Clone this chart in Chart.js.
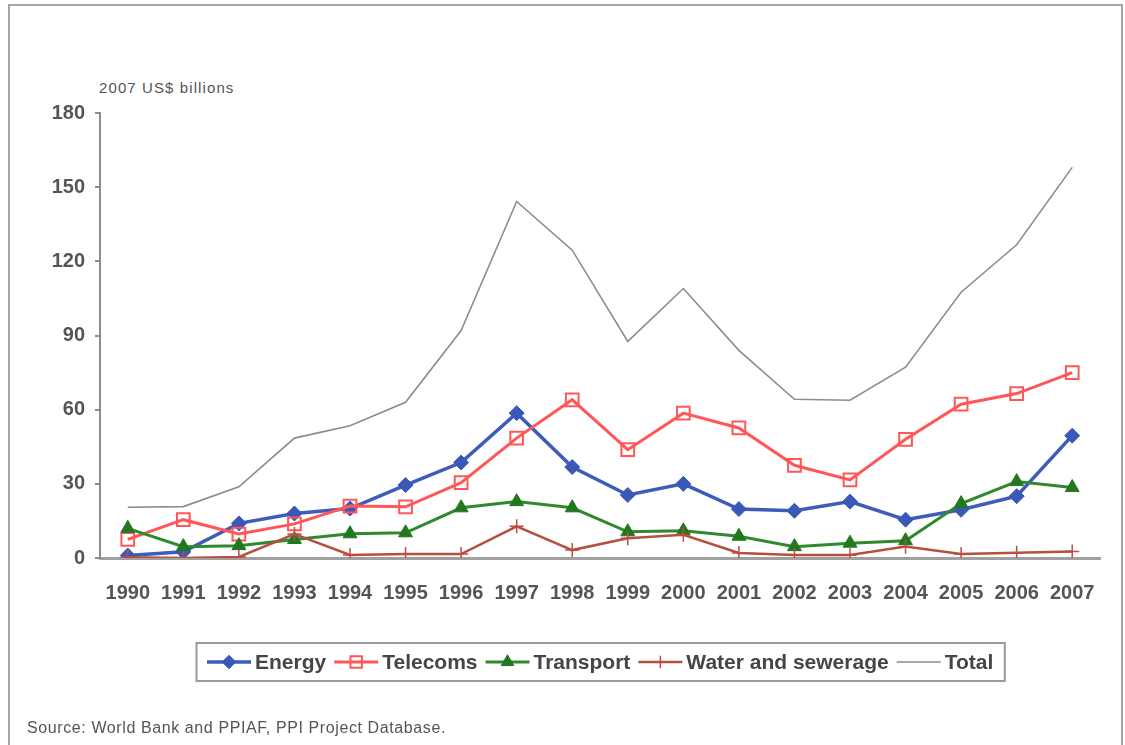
<!DOCTYPE html>
<html>
<head>
<meta charset="utf-8">
<title>Private investment in infrastructure by sector, 1990-2007</title>
<script src="https://cdn.jsdelivr.net/npm/chart.js@4.4.1/dist/chart.umd.min.js"></script>
<style>
  html, body { margin: 0; padding: 0; background: #ffffff; }
  #wrap { position: relative; width: 1125px; height: 745px; overflow: hidden; }
  #frame {
    position: absolute; left: 8px; top: 4px; width: 1115px; height: 760px;
    border: 2px solid #a3a7a3; box-sizing: border-box;
  }
  #unit {
    position: absolute; left: 99px; top: 79px;
    font: 15px "Liberation Sans", Arial, sans-serif; color: #555555; letter-spacing: 1.1px;
  }
  #source {
    position: absolute; left: 27px; top: 719px;
    font: 16px "Liberation Sans", Arial, sans-serif; color: #555555; letter-spacing: 0.6px;
  }
  canvas { position: absolute; left: 0; top: 0; }
</style>
</head>
<body>
<div id="wrap">
  <div id="frame"></div>
  <div id="unit">2007 US$ billions</div>
  <canvas id="chart" width="1125" height="745"></canvas>
  <div id="source">Source: World Bank and PPIAF, PPI Project Database.</div>
</div>
<script>
// Years on the category axis
const years = ['1990','1991','1992','1993','1994','1995','1996','1997','1998',
               '1999','2000','2001','2002','2003','2004','2005','2006','2007'];

// Investment commitments by sector, 2007 US$ billions
const energy    = [1, 2.5, 14, 18, 20, 29.5, 38.6, 58.6, 36.8, 25.5, 30, 19.8, 19.1, 22.8, 15.5, 19.5, 25, 49.5];
const telecoms  = [7.5, 15.5, 9.7, 13.8, 21, 20.7, 30.5, 48.5, 64, 43.8, 58.6, 52.6, 37.5, 31.6, 48, 62.2, 66.5, 75];
const transport = [12, 4.6, 5, 7.5, 9.8, 10.2, 20.3, 22.8, 20.3, 10.6, 11, 8.8, 4.6, 6, 7, 22, 30.9, 28.5];
const water     = [0.3, 0, 0.4, 9.7, 1.2, 1.6, 1.6, 12.8, 3.2, 8, 9.4, 2, 1.2, 1.2, 4.6, 1.6, 2.1, 2.6];
const total     = [20.5, 20.8, 28.8, 48.5, 53.5, 63, 92, 144.2, 124.5, 87.6, 109, 84, 64.2, 63.8, 77.2, 107.5, 126.7, 158];

// Value axis ticks
const yTicks = [0, 30, 60, 90, 120, 150, 180];

const FONT = '"Liberation Sans", Arial, sans-serif';
const TEXT = '#555555';

// Legend drawn inside the canvas: line sample with marker, then label, all framed by a box
const boxedLegend = {
  id: 'boxedLegend',
  afterDraw(chart) {
    const ctx = chart.ctx;
    const area = chart.chartArea;
    const items = chart.data.datasets.map((ds, i) => ({ ds, meta: chart.getDatasetMeta(i) }));
    const sampleW = 44, gap = 4, itemGap = 8, padX = 11;
    ctx.save();
    ctx.font = 'bold 21px ' + FONT;
    const widths = items.map(it => ctx.measureText(it.ds.label).width);
    let totalW = 2 * padX;
    widths.forEach((w, i) => { totalW += sampleW + gap + w + (i < widths.length - 1 ? itemGap : 0); });
    const cx = (area.left + area.right) / 2;
    const cy = 662;
    const left = Math.round(cx - totalW / 2);
    const boxH = 38;

    // frame
    ctx.lineWidth = 2;
    ctx.strokeStyle = '#9a9a9a';
    ctx.strokeRect(left + 0.5, cy - boxH / 2, totalW, boxH);

    let x = left + padX;
    items.forEach((it, i) => {
      const ds = it.ds;
      ctx.save();
      ctx.strokeStyle = ds.borderColor;
      ctx.lineWidth = ds.borderWidth;
      ctx.beginPath();
      ctx.moveTo(x, cy);
      ctx.lineTo(x + sampleW, cy);
      ctx.stroke();
      if (ds.pointStyle && ds.pointRadius > 0) {
        ctx.fillStyle = ds.pointBackgroundColor;
        ctx.strokeStyle = ds.pointBorderColor;
        ctx.lineWidth = ds.pointBorderWidth;
        Chart.helpers.drawPoint(ctx, {
          pointStyle: ds.pointStyle,
          radius: ds.pointRadius * 0.9,
          rotation: 0,
          borderWidth: ds.pointBorderWidth
        }, x + sampleW / 2, cy);
      }
      ctx.restore();
      x += sampleW + gap;
      ctx.fillStyle = '#454545';
      ctx.textBaseline = 'middle';
      ctx.textAlign = 'left';
      ctx.fillText(ds.label, x, cy + 1);
      x += widths[i] + itemGap;
    });
    ctx.restore();
  }
};

new Chart(document.getElementById('chart'), {
  type: 'line',
  data: {
    labels: years,
    datasets: [
      {
        label: 'Energy', data: energy, order: 5,
        borderColor: '#3d5cbc', borderWidth: 3.5,
        pointStyle: 'rectRot', pointRadius: 7.5,
        pointBackgroundColor: '#3a58b8', pointBorderColor: '#3a58b8', pointBorderWidth: 1
      },
      {
        label: 'Telecoms', data: telecoms, order: 4,
        borderColor: '#ff5757', borderWidth: 3,
        pointStyle: 'rect', pointRadius: 9,
        pointBackgroundColor: 'rgba(255,255,255,0)', pointBorderColor: '#ff5757', pointBorderWidth: 2
      },
      {
        label: 'Transport', data: transport, order: 3,
        borderColor: '#2f8a2f', borderWidth: 3,
        pointStyle: 'triangle', pointRadius: 8,
        pointBackgroundColor: '#22771f', pointBorderColor: '#22771f', pointBorderWidth: 1
      },
      {
        label: 'Water and sewerage', data: water, order: 2,
        borderColor: '#b5503f', borderWidth: 2.5,
        pointStyle: 'cross', pointRadius: 7,
        pointBackgroundColor: '#c04a44', pointBorderColor: '#c04a44', pointBorderWidth: 1.5
      },
      {
        label: 'Total', data: total, order: 1,
        borderColor: '#8c8c8c', borderWidth: 1.6,
        pointRadius: 0, pointStyle: false
      }
    ]
  },
  options: {
    responsive: false,
    animation: false,
    devicePixelRatio: 1,
    layout: { padding: { top: 113, right: 25, bottom: 127, left: 0 } },
    plugins: {
      legend: { display: false },
      tooltip: { enabled: false }
    },
    elements: { line: { tension: 0 } },
    scales: {
      x: {
        type: 'category',
        offset: true,
        grid: { drawOnChartArea: false, drawTicks: false },
        border: { display: true, color: '#a0a0a0', width: 3 },
        ticks: {
          color: TEXT, padding: 23, maxRotation: 0, autoSkip: false,
          font: { family: FONT, size: 20, weight: 'bold' }
        },
        afterFit(scale) { scale.height = 60; }
      },
      y: {
        min: yTicks[0],
        max: yTicks[yTicks.length - 1],
        afterBuildTicks(scale) { scale.ticks = yTicks.map(v => ({ value: v })); },
        grid: { drawOnChartArea: false, drawTicks: true, tickLength: 5, color: '#8c8c8c', lineWidth: 2 },
        border: { display: true, color: '#8c8c8c', width: 2 },
        ticks: {
          color: TEXT, padding: 10,
          font: { family: FONT, size: 20, weight: 'bold' }
        },
        afterFit(scale) { scale.width = 100; }
      }
    }
  },
  plugins: [boxedLegend]
});
</script>
</body>
</html>
